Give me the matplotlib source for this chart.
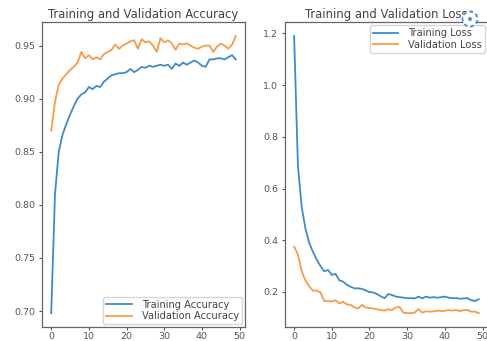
import matplotlib
matplotlib.use("Agg")
import matplotlib.pyplot as plt
from matplotlib.patches import Ellipse

# per-epoch history (50 epochs)
epochs = list(range(50))

acc = [0.698, 0.810, 0.850, 0.866, 0.876, 0.885, 0.893, 0.900, 0.904, 0.906,
       0.911, 0.909, 0.912, 0.911, 0.916, 0.919, 0.922, 0.923, 0.924, 0.924,
       0.925, 0.928, 0.925, 0.927, 0.930, 0.929, 0.931, 0.930, 0.931, 0.932,
       0.931, 0.932, 0.928, 0.933, 0.931, 0.934, 0.932, 0.934, 0.936, 0.934,
       0.931, 0.930, 0.937, 0.937, 0.938, 0.938, 0.937, 0.939, 0.941, 0.937]

val_acc = [0.870, 0.897, 0.913, 0.919, 0.923, 0.927, 0.930, 0.934, 0.944, 0.938,
           0.941, 0.937, 0.939, 0.937, 0.942, 0.944, 0.946, 0.951, 0.947, 0.950,
           0.952, 0.954, 0.955, 0.947, 0.956, 0.953, 0.954, 0.950, 0.944, 0.957,
           0.953, 0.955, 0.952, 0.946, 0.952, 0.951, 0.952, 0.950, 0.948, 0.947,
           0.949, 0.950, 0.950, 0.944, 0.949, 0.952, 0.950, 0.947, 0.951, 0.959]

loss = [1.190, 0.690, 0.530, 0.445, 0.390, 0.355, 0.325, 0.300, 0.280, 0.285,
        0.266, 0.270, 0.245, 0.240, 0.228, 0.220, 0.214, 0.214, 0.212, 0.206,
        0.200, 0.198, 0.192, 0.183, 0.176, 0.192, 0.188, 0.182, 0.180, 0.178,
        0.176, 0.176, 0.175, 0.182, 0.175, 0.182, 0.178, 0.180, 0.178, 0.180,
        0.182, 0.178, 0.176, 0.176, 0.174, 0.175, 0.176, 0.168, 0.165, 0.172]

val_loss = [0.375, 0.345, 0.280, 0.245, 0.222, 0.205, 0.205, 0.198, 0.165, 0.165,
            0.163, 0.168, 0.156, 0.162, 0.152, 0.150, 0.140, 0.136, 0.150, 0.140,
            0.138, 0.136, 0.133, 0.130, 0.128, 0.133, 0.130, 0.140, 0.142, 0.120,
            0.118, 0.118, 0.120, 0.134, 0.120, 0.125, 0.124, 0.125, 0.128, 0.126,
            0.127, 0.130, 0.128, 0.130, 0.126, 0.130, 0.130, 0.124, 0.124, 0.118]

BLUE = '#3f8bc9'
ORANGE = '#f99a4a'

plt.rcParams['font.size'] = 6.8
plt.rcParams['axes.linewidth'] = 0.9
plt.rcParams['axes.edgecolor'] = '#666666'
plt.rcParams['xtick.major.size'] = 2.2
plt.rcParams['ytick.major.size'] = 2.2
plt.rcParams['xtick.major.pad'] = 1.2
plt.rcParams['ytick.major.pad'] = 2.5
plt.rcParams['xtick.color'] = '#555555'
plt.rcParams['ytick.color'] = '#555555'

fig = plt.figure(figsize=(4.87, 3.41), dpi=100)
ax1 = fig.add_axes([0.0862, 0.041, 0.417, 0.894])
ax2 = fig.add_axes([0.585, 0.041, 0.417, 0.894])

leg_kw = dict(fontsize=7.1, labelspacing=0.15, borderpad=0.3,
              handlelength=2.6, handletextpad=1.0, borderaxespad=0.3,
              labelcolor='#444444')

## accuracy
ax1.plot(epochs, acc, color=BLUE, lw=1.3, label='Training Accuracy')
ax1.plot(epochs, val_acc, color=ORANGE, lw=1.3, label='Validation Accuracy')
ax1.set_title('Training and Validation Accuracy', fontsize=8.4, pad=3, color='#444444')
ax1.legend(loc='lower right', **leg_kw)

## loss
ax2.plot(epochs, loss, color=BLUE, lw=1.3, label='Training Loss')
ax2.plot(epochs, val_loss, color=ORANGE, lw=1.3, label='Validation Loss')
ax2.set_title('Training and Validation Loss', fontsize=8.4, pad=3, color='#444444')
ax2.legend(loc='upper right', **leg_kw)

for ax in (ax1, ax2):
    ax.set_xticks([0, 10, 20, 30, 40, 50])

# expand icon over the corner of the loss title
fig.add_artist(Ellipse((470 / 487, 1 - 19 / 341), 15 / 487, 15 / 341,
                       facecolor='white', edgecolor='#4a90d9', lw=1.4,
                       linestyle=(0, (2, 1.5)), transform=fig.transFigure))
fig.add_artist(Ellipse((470 / 487, 1 - 19 / 341), 4 / 487, 4 / 341,
                       facecolor='#4a90d9', edgecolor='none',
                       transform=fig.transFigure))

fig.savefig('out.png', dpi=100)
